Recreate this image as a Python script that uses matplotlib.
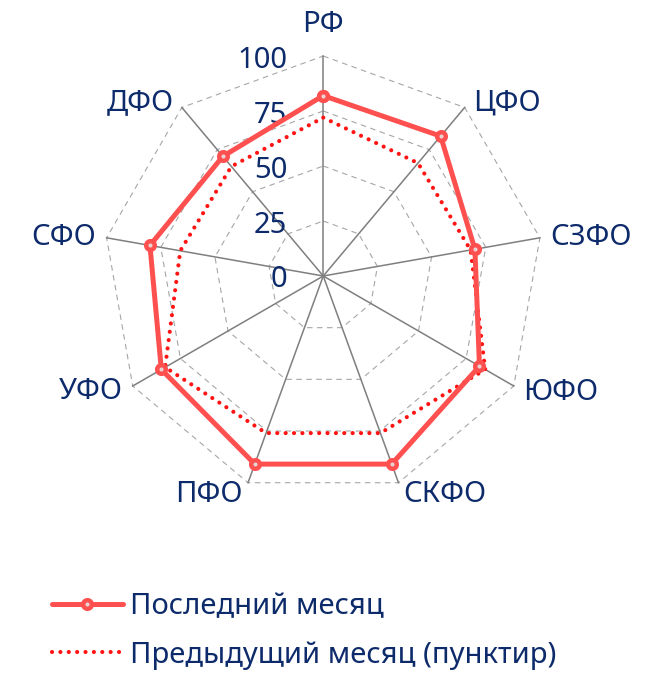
import numpy as np
import matplotlib
matplotlib.use('Agg')
import matplotlib.pyplot as plt
from matplotlib.lines import Line2D

plt.rcParams['font.family'] = ['Noto Sans', 'DejaVu Sans']
plt.rcParams['font.weight'] = 'light'

# данные
regions = ['РФ', 'ЦФО', 'СЗФО', 'ЮФО', 'СКФО', 'ПФО', 'УФО', 'СФО', 'ДФО']
last_month = [82, 83, 70, 82, 91, 91, 85, 80, 71]
prev_month = [72, 67, 68, 85, 76, 76, 83, 66, 65]
r_ticks = [0, 25, 50, 75, 100]

navy = '#0D2A6B'
red_solid = '#FF5050'
red_dot = '#FF1414'

n = len(regions)
angles = np.linspace(0, 2 * np.pi, n, endpoint=False)
ang_closed = np.append(angles, angles[0])

fig = plt.figure(figsize=(6.52, 6.73), dpi=100)
ax = fig.add_axes([0.1584, 0.2630, 0.6748, 0.6538], projection='polar')
ax.set_theta_zero_location('N')
ax.set_theta_direction(-1)
ax.set_ylim(0, 100)
ax.grid(False)
ax.spines['polar'].set_visible(False)
ax.set_xticks([])
ax.set_yticks([])
ax.patch.set_alpha(0)

# сетка-многоугольники
for r in r_ticks[1:]:
    ax.plot(ang_closed, [r] * (n + 1), color='#A6A6A6', lw=0.8,
            linestyle=(0, (5, 4)), zorder=1, clip_on=False)
for a in angles:
    ax.plot([a, a], [0, 100], color='#7F7F7F', lw=1.1, zorder=2, clip_on=False)

# серии
ax.plot(ang_closed, prev_month + prev_month[:1], color=red_dot, lw=3.0,
        linestyle=(0, (0.01, 2.0)), dash_capstyle='round', zorder=3, clip_on=False)
ax.plot(ang_closed, last_month + last_month[:1], color=red_solid, lw=3.6,
        marker='o', ms=6.2, mew=3.2, mfc='#E9D4D4', mec=red_solid,
        solid_joinstyle='round', zorder=4, clip_on=False)

# подписи шкалы
for r in r_ticks:
    ax.annotate(str(r), xy=(0, r), xytext=(-36, -11.5), textcoords='offset pixels',
                ha='right', va='baseline', fontsize=21, color=navy, annotation_clip=False)

# подписи округов
label_pos = {
    'РФ': ('center', 0, 24),
    'ЦФО': ('left', 8, -3),
    'СЗФО': ('left', 10, -7),
    'ЮФО': ('left', 9, -14),
    'СКФО': ('left', 5, -19),
    'ПФО': ('right', -5, -19),
    'УФО': ('right', -10, -13),
    'СФО': ('right', -11, -7),
    'ДФО': ('right', -8, -3),
}
for a, name in zip(angles, regions):
    ha, dx, dy = label_pos[name]
    ax.annotate(name, xy=(a, 100), xytext=(dx, dy), textcoords='offset pixels',
                ha=ha, va='baseline', fontsize=21, color=navy, annotation_clip=False)

handles = [
    Line2D([], [], color=red_solid, lw=3.6, marker='o', ms=6.2, mew=3.2,
           mfc='#E9D4D4', mec=red_solid, solid_capstyle='round'),
    Line2D([], [], color=red_dot, lw=3.0, linestyle=(0, (0.01, 2.0)),
           dash_capstyle='round'),
]
leg = fig.legend(handles, ['Последний месяц', 'Предыдущий месяц (пунктир)'],
                 loc='center left', bbox_to_anchor=(51.7 / 652, 1 - 631 / 673),
                 frameon=False, fontsize=21, handlelength=2.43, handletextpad=0.24,
                 labelspacing=0.66, borderpad=0, borderaxespad=0, numpoints=1)
for t in leg.get_texts():
    t.set_color(navy)

fig.savefig('out.png', dpi=100)
